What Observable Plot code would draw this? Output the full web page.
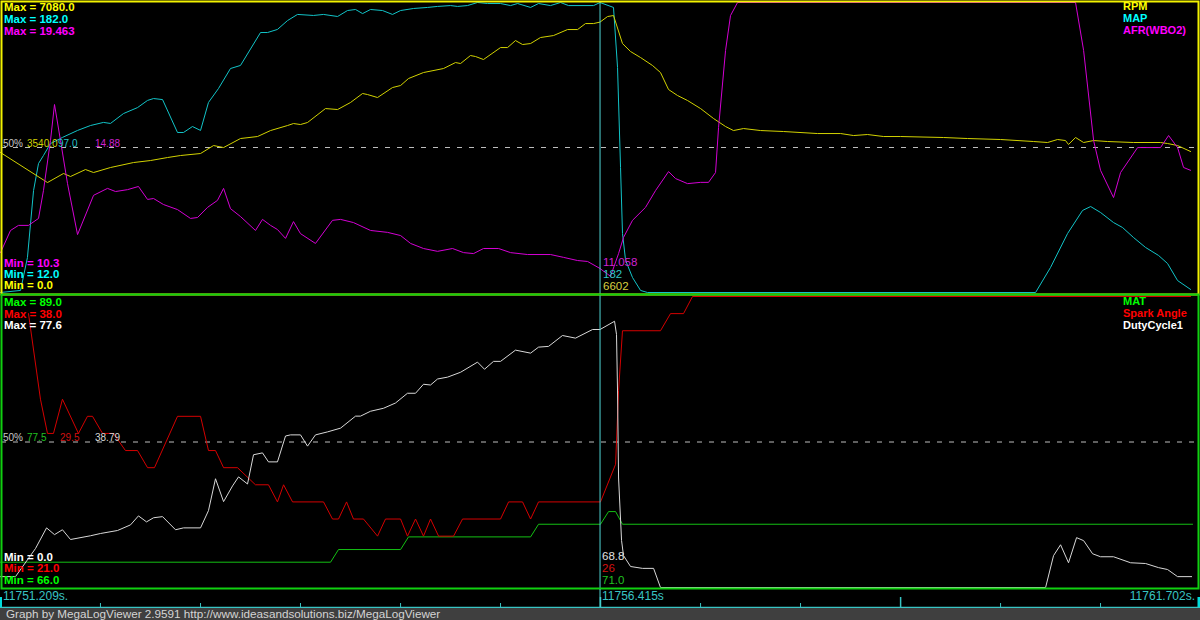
<!DOCTYPE html>
<html><head><meta charset="utf-8">
<script src="https://cdn.jsdelivr.net/npm/d3@7"></script>
<script src="https://cdn.jsdelivr.net/npm/@observablehq/plot@0.6"></script>
<style>
html,body{margin:0;padding:0;background:#000;}
#chart{position:relative;width:1200px;height:620px;background:#000;overflow:hidden;font-family:"Liberation Sans",Arial,sans-serif;}
#chart svg{position:absolute;left:0;}
.lbl{position:absolute;white-space:pre;line-height:13px;}
.b{font-weight:bold;font-size:11.5px;}
.lg{font-weight:bold;font-size:11px;}
.m{font-size:10px;}
.c{font-size:11.5px;}
.tm{font-size:12px;color:#38c4c4;}
#footer{position:absolute;left:0;top:608px;width:1200px;height:12px;background:#3f3f3f;color:#d4d4d4;font-size:11.7px;line-height:12px;white-space:pre;overflow:hidden;}
</style></head>
<body><div id="chart"></div>
<script>
// ---- time axis (seconds since 11751.209 s) ----
const timeLabels = ["11751.209s.", "11756.415s", "11761.702s."];
const viewSpan = 10.493;      // 11761.702 - 11751.209
const cursorT = 5.206;        // 11756.415 - 11751.209
const minorTicks = [0.868, 1.737, 2.605, 3.474, 4.342, 6.079, 6.947, 8.684, 9.552];
const majorTicks = [5.21, 7.816];
const edgeTicks = [0, 10.407];

// ---- top panel: RPM, MAP, AFR(WBO2) ----
const rpmRange = [0, 7080], mapRange = [12, 182], afrRange = [10.3, 19.463];
const rpmData = [[0,3417],[0.408,2685],[0.547,2905],[0.608,2832],[0.738,3002],[0.808,2929],[0.955,3051],[1.155,3173],[1.303,3222],[1.45,3295],[1.563,3344],[1.737,3393],[1.85,3588],[1.937,3539],[2.084,3759],[2.232,3808],[2.345,3954],[2.492,4076],[2.544,4125],[2.605,4101],[2.666,4150],[2.822,4491],[2.927,4467],[3.039,4638],[3.144,4858],[3.187,4833],[3.274,4760],[3.404,5004],[3.474,5053],[3.543,5224],[3.673,5370],[3.847,5468],[3.951,5614],[3.995,5590],[4.081,5785],[4.125,5761],[4.194,5688],[4.342,5980],[4.403,5980],[4.472,6151],[4.533,6054],[4.603,6078],[4.689,6225],[4.802,6273],[4.924,6420],[5.011,6420],[5.08,6566],[5.15,6566],[5.206,6602],[5.271,6737],[5.323,6762],[5.401,6078],[5.471,5883],[5.558,5736],[5.662,5541],[5.731,5370],[5.801,4955],[5.879,4809],[5.966,4687],[6.079,4491],[6.192,4247],[6.296,4052],[6.365,3954],[6.452,4003],[6.6,3954],[6.8,3930],[7.095,3881],[7.295,3881],[7.408,3832],[7.529,3857],[7.668,3808],[7.816,3808],[8.189,3784],[8.397,3759],[8.684,3735],[8.971,3686],[9.092,3662],[9.179,3735],[9.248,3710],[9.274,3613],[9.335,3784],[9.405,3662],[9.492,3710],[9.613,3686],[9.839,3662],[10.073,3662],[10.134,3637],[10.221,3588],[10.334,3442]];
const mapData = [[0,12],[0.174,13.2],[0.234,32.5],[0.287,71.8],[0.33,87.6],[0.373,92.3],[0.434,99.3],[0.538,102.9],[0.669,107],[0.782,109.9],[0.894,111.7],[0.955,111.1],[1.068,116.9],[1.19,120.4],[1.277,124.6],[1.329,125.7],[1.407,125.1],[1.537,105.8],[1.589,105.8],[1.667,109.3],[1.737,107],[1.806,123.4],[1.893,131.6],[1.997,143.3],[2.084,145.1],[2.258,164.4],[2.319,164.4],[2.405,166.2],[2.492,171.4],[2.579,175],[2.718,174.4],[2.805,175],[2.927,173.8],[3.013,177.3],[3.083,177.9],[3.144,175.5],[3.213,177.9],[3.317,177.3],[3.404,175],[3.474,177.3],[3.587,178.5],[3.708,179.1],[3.795,179.7],[3.908,180.2],[3.969,179.7],[4.055,180.2],[4.142,182],[4.229,181.4],[4.342,181.4],[4.429,180.2],[4.49,181.4],[4.603,179.1],[4.672,181.4],[4.776,180.2],[4.863,182],[4.933,180.2],[5.15,180.2],[5.206,182],[5.323,179.1],[5.358,143.9],[5.384,85.3],[5.401,46.6],[5.428,30.8],[5.488,20.8],[5.558,13.2],[5.618,12],[8.988,12],[9.118,26.7],[9.266,46.6],[9.396,60.1],[9.466,62.4],[9.552,58.9],[9.665,53],[9.743,50.1],[9.839,44.2],[9.943,38.4],[10.056,33.7],[10.134,29],[10.221,19],[10.334,13.8]];
const afrData = [[0,11.56],[0.087,12.26],[0.156,12.42],[0.243,12.42],[0.33,12.64],[0.373,13.52],[0.434,15.1],[0.469,16.24],[0.521,15.1],[0.582,13.74],[0.669,12.13],[0.808,13.37],[0.929,13.59],[0.999,13.49],[1.103,13.55],[1.198,13.65],[1.277,13.24],[1.329,13.27],[1.415,13.08],[1.537,12.92],[1.65,12.64],[1.711,12.67],[1.798,12.99],[1.884,13.21],[1.937,13.59],[1.997,12.95],[2.084,12.7],[2.214,12.26],[2.275,12.61],[2.345,12.42],[2.405,12.29],[2.475,12.01],[2.544,12.54],[2.605,12.16],[2.735,11.85],[2.883,12.58],[2.953,12.61],[3.065,12.51],[3.213,12.26],[3.361,12.2],[3.474,12.1],[3.561,11.85],[3.673,11.69],[3.795,11.6],[3.925,11.69],[4.021,11.56],[4.108,11.53],[4.194,11.69],[4.325,11.69],[4.429,11.56],[4.576,11.5],[4.776,11.5],[4.889,11.41],[5.011,11.31],[5.098,11.28],[5.206,11.058],[5.297,10.81],[5.367,11.53],[5.41,12.04],[5.488,12.58],[5.601,12.99],[5.688,13.52],[5.801,14.12],[5.862,13.9],[5.966,13.74],[6.079,13.78],[6.148,13.78],[6.209,14.09],[6.235,15.51],[6.296,17.95],[6.339,19.05],[6.4,19.463],[9.335,19.463],[9.405,17.95],[9.492,15.1],[9.552,14.16],[9.665,13.3],[9.726,14.09],[9.874,14.88],[10.073,14.88],[10.143,15.26],[10.221,14.88],[10.273,14.25],[10.334,14.16]];

// ---- bottom panel: MAT, Spark Angle, DutyCycle1 ----
const matRange = [66, 89], sparkRange = [21, 38], dutyRange = [0, 77.6];
const matData = [[0,68],[2.866,68],[2.935,69],[3.474,69],[3.543,70],[4.603,70],[4.672,71],[5.21,71],[5.28,72],[5.341,72],[5.401,71],[10.351,71]];
const sparkData = [[0.243,37],[0.347,32],[0.408,30],[0.46,30],[0.538,32],[0.677,30],[0.755,31],[0.799,31],[0.886,30],[0.981,30],[1.085,29],[1.19,29],[1.277,28],[1.337,28],[1.537,31],[1.737,31],[1.806,29],[1.867,29],[1.937,28],[2.058,28],[2.214,27],[2.327,27],[2.405,26],[2.458,27],[2.536,26],[2.805,26],[2.883,25],[2.935,25],[3.005,26],[3.065,25],[3.152,25],[3.274,24],[3.343,25],[3.474,25],[3.534,24],[3.604,25],[3.673,24],[3.734,25],[3.804,24],[3.934,24],[4.012,25],[4.342,25],[4.412,26],[4.533,26],[4.603,25],[4.672,26],[5.21,26],[5.341,28.2],[5.367,32.5],[5.401,36],[5.731,36],[5.818,37],[5.931,37],[6.009,38],[10.334,38]];
const dutyData = [[0,2.9],[0.13,2.9],[0.304,10.4],[0.4,15.9],[0.469,14.1],[0.538,15.4],[0.608,12.8],[0.782,13.8],[0.868,14.4],[1.016,15.2],[1.129,16.7],[1.198,19.1],[1.268,17.5],[1.329,18.6],[1.407,18.9],[1.52,15.4],[1.589,15.9],[1.737,15.9],[1.806,20.5],[1.867,29],[1.937,22.9],[2.015,27.1],[2.067,29.5],[2.145,27.6],[2.197,35.4],[2.275,35.9],[2.327,33.5],[2.405,33.5],[2.475,40.4],[2.518,40.7],[2.605,40.7],[2.666,37.7],[2.735,40.7],[2.84,41.5],[2.953,42.5],[3.083,45.7],[3.126,45.7],[3.213,47],[3.326,47.8],[3.43,49.2],[3.534,51.8],[3.604,51.8],[3.673,54.2],[3.734,54],[3.795,55.6],[3.882,56.1],[3.995,57.4],[4.142,60.1],[4.203,58.2],[4.281,60.3],[4.342,60.3],[4.472,63.3],[4.603,62.5],[4.672,64.1],[4.759,64.3],[4.88,67.2],[4.993,66.5],[5.141,68.8],[5.206,68.8],[5.332,71],[5.349,67.5],[5.358,52.4],[5.367,29.2],[5.393,12.5],[5.41,8.5],[5.471,5.6],[5.575,5.1],[5.671,5.1],[5.731,0],[9.075,0],[9.144,8.5],[9.205,11.4],[9.274,6.6],[9.344,13.3],[9.405,12.5],[9.483,9],[9.552,8.2],[9.665,8.2],[9.813,6.6],[9.943,6.4],[10.056,5.3],[10.134,4.8],[10.221,2.9],[10.343,2.9]];

// ---- label texts ----
const topNames = ["RPM", "MAP", "AFR(WBO2)"];
const topMax = ["Max = 7080.0", "Max = 182.0", "Max = 19.463"];
const topMin = ["Min = 10.3", "Min = 12.0", "Min = 0.0"];
const topMid = ["3540.0", "97.0", "14.88"];
const topCursor = ["11.058", "182", "6602"];
const botNames = ["MAT", "Spark Angle", "DutyCycle1"];
const botMax = ["Max = 89.0", "Max = 38.0", "Max = 77.6"];
const botMin = ["Min = 0.0", "Min = 21.0", "Min = 66.0"];
const botMid = ["77.5", "29.5", "38.79"];
const botCursor = ["68.8", "26", "71.0"];
const footerText = "Graph by MegaLogViewer 2.9591 http://www.ideasandsolutions.biz/MegaLogViewer";

(function () {
  const bright = {rpm:"#ffff00", map:"#00ffff", afr:"#ff00ff", mat:"#00ff00", spark:"#ff0000", duty:"#ffffff"};
  const trace = {rpm:"#d2d200", map:"#12c4c8", afr:"#d400d4", mat:"#14c014", spark:"#d40000", duty:"#d8d8d8"};
  const cursorColor = "#4fd6d6", axisCyan = "#38c4c4";

  const X = {domain: [0, viewSpan], range: [0, 1208.4], axis: null};
  const norm = (pairs, [lo, hi]) => pairs.map(([t, v]) => ({t, n: (v - lo) / (hi - lo)}));

  function panel(series, frameColor, height, yRange) {
    return Plot.plot({
      width: 1200, height,
      marginTop: 1, marginRight: 2, marginBottom: 1, marginLeft: 1,
      x: X,
      y: {domain: [0, 1], range: yRange, axis: null},
      style: {background: "transparent", overflow: "visible"},
      marks: [
        Plot.ruleY([0.5], {stroke: "#bdbdbd", strokeWidth: 1, strokeDasharray: "5,7"}),
        ...series.map(s => Plot.line(norm(s.data, s.range), {x: "t", y: "n", stroke: s.color, strokeWidth: 1})),
        Plot.ruleX([cursorT], {stroke: cursorColor, strokeWidth: 1}),
        Plot.frame({stroke: frameColor, strokeWidth: 2})
      ]
    });
  }

  const chart = document.getElementById("chart");
  const topSvg = panel([
    {data: mapData, range: mapRange, color: trace.map},
    {data: rpmData, range: rpmRange, color: trace.rpm},
    {data: afrData, range: afrRange, color: trace.afr}
  ], "#f2f200", 295, [292, 2]);
  topSvg.style.top = "0px";
  chart.appendChild(topSvg);

  const botSvg = panel([
    {data: matData, range: matRange, color: trace.mat},
    {data: sparkData, range: sparkRange, color: trace.spark},
    {data: dutyData, range: dutyRange, color: trace.duty}
  ], "#10d010", 296, [294, 3]);
  botSvg.style.top = "293px";
  chart.appendChild(botSvg);

  const strip = Plot.plot({
    width: 1200, height: 19,
    marginTop: 0, marginRight: 0, marginBottom: 1, marginLeft: 0,
    x: X,
    y: {domain: [0, 1], range: [18, 0], axis: null},
    style: {background: "transparent", overflow: "visible"},
    marks: [
      Plot.ruleY([0], {stroke: axisCyan, strokeWidth: 1.5}),
      Plot.ruleX(minorTicks, {stroke: axisCyan, strokeWidth: 1, insetTop: 14}),
      Plot.ruleX(majorTicks, {stroke: axisCyan, strokeWidth: 1.5, insetTop: 8}),
      Plot.ruleX(edgeTicks, {stroke: "#00dcdc", strokeWidth: 3, insetTop: 8}),
      Plot.ruleX([cursorT], {stroke: cursorColor, strokeWidth: 1})
    ]
  });
  strip.style.top = "589px";
  chart.appendChild(strip);

  function label(text, cls, left, topPx, color, alignRight) {
    const d = document.createElement("div");
    d.className = "lbl " + cls;
    d.textContent = text;
    d.style.top = topPx + "px";
    if (alignRight) d.style.right = (1200 - left) + "px"; else d.style.left = left + "px";
    if (color) d.style.color = color;
    chart.appendChild(d);
  }

  const topCols = [bright.rpm, bright.map, bright.afr];
  topMax.forEach((t, i) => label(t, "b", 4, [0.6, 12.6, 24.6][i], topCols[i]));
  topNames.forEach((t, i) => label(t, "lg", 1123, [0.4, 12.2, 24.4][i], topCols[i]));
  const topMinCols = [bright.afr, bright.map, bright.rpm];
  topMin.forEach((t, i) => label(t, "b", 4, [256.6, 267.6, 278.6][i], topMinCols[i]));
  label("50%", "m", 3, 136.9, "#c8c8c8");
  topMid.forEach((t, i) => label(t, "m", [27, 58, 95][i], 136.9, ["#d0d000", "#20c0c8", "#d020d0"][i]));
  topCursor.forEach((t, i) => label(t, "c", 603, [255.6, 267.6, 279.6][i], ["#d020d0", "#30c4c8", "#d8d040"][i]));

  const botCols = [bright.mat, bright.spark, bright.duty];
  botMax.forEach((t, i) => label(t, "b", 4, [296.4, 307.6, 318.6][i], botCols[i]));
  botNames.forEach((t, i) => label(t, "lg", 1123, [295.3, 306.9, 318.6][i], botCols[i]));
  const botMinCols = [bright.duty, bright.spark, bright.mat];
  botMin.forEach((t, i) => label(t, "b", 4, [550.6, 561.6, 573.6][i], botMinCols[i]));
  label("50%", "m", 3, 430.9, "#c8c8c8");
  botMid.forEach((t, i) => label(t, "m", [27, 60, 95][i], 430.9, ["#20c020", "#d01010", "#d8d8d8"][i]));
  botCursor.forEach((t, i) => label(t, "c", 602, [550.3, 561.6, 573.6][i], ["#e0e0e0", "#d41010", "#20c020"][i]));

  label(timeLabels[0], "tm", 3, 589.6);
  label(timeLabels[1], "tm", 602, 589.6);
  label(timeLabels[2], "tm", 1195, 589.6, null, true);

  const footer = document.createElement("div");
  footer.id = "footer";
  footer.textContent = footerText;
  footer.style.paddingLeft = "6px";
  chart.appendChild(footer);
})();
</script>
</body></html>
